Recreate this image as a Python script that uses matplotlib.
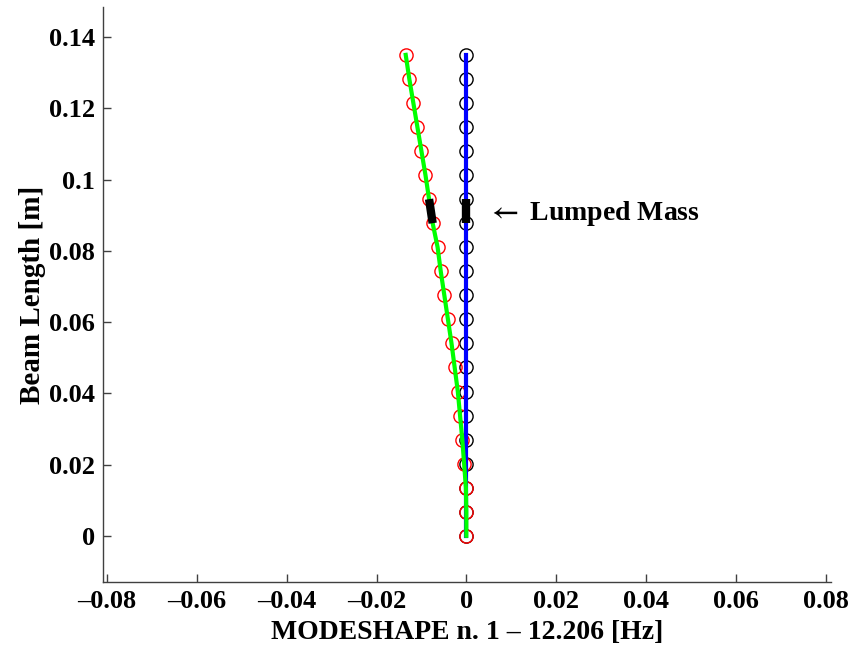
import numpy as np
import matplotlib
matplotlib.use("Agg")
from matplotlib import pyplot as plt

# Beam nodes (length along the beam) and first mode shape
beam_length = [0.0, 0.00675, 0.0135, 0.02025, 0.027, 0.03375, 0.0405, 0.04725,
               0.054, 0.06075, 0.0675, 0.07425, 0.081, 0.08775, 0.0945, 0.10125,
               0.108, 0.11475, 0.1215, 0.12825, 0.135]
modeshape = [0.0, 0.0, -0.0001, -0.0005, -0.0009, -0.0014, -0.0019, -0.0026,
             -0.0033, -0.0041, -0.0049, -0.0057, -0.0064, -0.0075, -0.0083,
             -0.0091, -0.0100, -0.0109, -0.0118, -0.0127, -0.0135]
undeformed = [0.0] * len(beam_length)

# lumped mass sits between these two nodes
mass_nodes = [13, 14]

x_ticks = [-0.08, -0.06, -0.04, -0.02, 0, 0.02, 0.04, 0.06, 0.08]
x_ticklabels = ["\u20130.08", "\u20130.06", "\u20130.04", "\u20130.02", "0",
                "0.02", "0.04", "0.06", "0.08"]
y_ticks = [0, 0.02, 0.04, 0.06, 0.08, 0.1, 0.12, 0.14]
y_ticklabels = ["0", "0.02", "0.04", "0.06", "0.08", "0.1", "0.12", "0.14"]

freq = 12.206
mode_no = 1

plt.rcParams['font.family'] = ['Liberation Serif', 'DejaVu Serif']
plt.rcParams['font.weight'] = 'bold'
plt.rcParams['mathtext.fontset'] = 'stix'

fig = plt.figure(figsize=(8.54, 6.5), dpi=100)
ax = fig.add_axes([0.1206, 0.105, 0.852, 0.884])

y = np.array(beam_length)
u = np.array(modeshape)
u0 = np.array(undeformed)

# undeformed beam
ax.plot(u0, y, 'o', mfc='none', mec='black', ms=9.5, mew=1.0, zorder=2)
ax.plot(u0, y, '-', color='#0000ff', lw=3, zorder=3)

# deformed beam
ax.plot(u, y, 'o', mfc='none', mec='#ff0000', ms=9.5, mew=1.0, zorder=2)
ax.plot(u, y, '-', color='#00ff00', lw=3, zorder=3)

# lumped mass
ax.plot(u0[mass_nodes], y[mass_nodes], '-', color='black', lw=6,
        solid_capstyle='butt', zorder=4)
ax.plot(u[mass_nodes], y[mass_nodes], '-', color='black', lw=6,
        solid_capstyle='butt', zorder=4)

ax.text(0.0045, 0.0906, r"$\leftarrow$ Lumped Mass", fontsize=20,
        fontweight='bold', va='center', ha='left')

ax.set_xlim(-0.0809, 0.0811)
ax.set_ylim(-0.0129, 0.1484)
ax.set_xticks(x_ticks)
ax.set_xticklabels(x_ticklabels)
ax.set_yticks(y_ticks)
ax.set_yticklabels(y_ticklabels)

ax.spines['top'].set_visible(False)
ax.spines['right'].set_visible(False)
for s in ['left', 'bottom']:
    ax.spines[s].set_color('#404040')
    ax.spines[s].set_linewidth(1.0)
ax.tick_params(direction='in', length=6, width=1, color='#404040',
               labelsize=19, pad=6)
for lab in ax.get_xticklabels() + ax.get_yticklabels():
    lab.set_fontweight('bold')

ax.set_xlabel("MODESHAPE n. %d \u2013 %.3f [Hz]" % (mode_no, freq),
              fontsize=20, fontweight='bold', labelpad=5)
ax.set_ylabel("Beam Length [m]", fontsize=21, fontweight='bold', labelpad=2)

fig.savefig("out.png", dpi=100)
